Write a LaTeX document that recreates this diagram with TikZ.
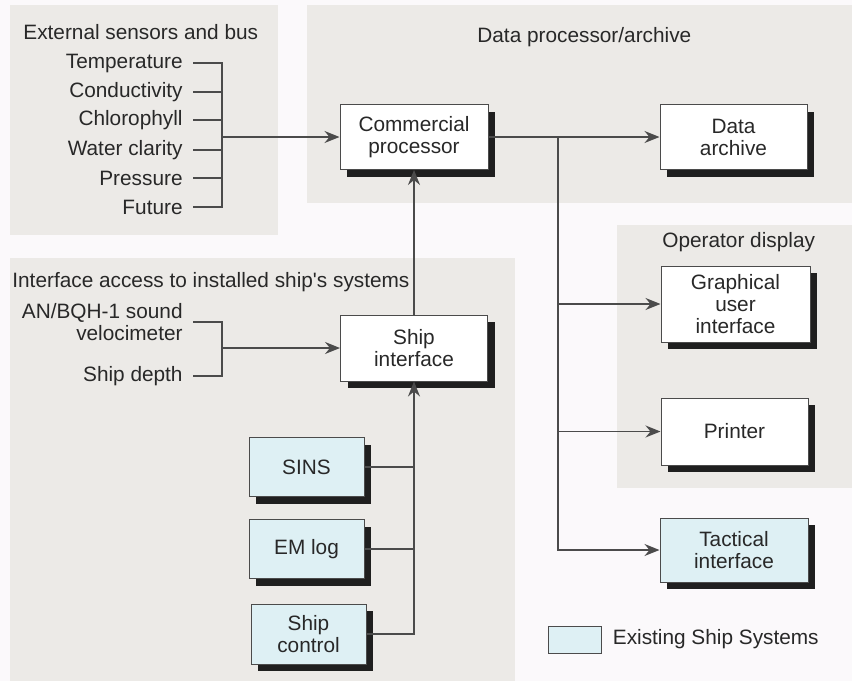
\documentclass[tikz,border=0pt]{standalone}
\usepackage{fontspec}
\setmainfont{Liberation Sans}
\usetikzlibrary{arrows.meta,positioning,shadows}
\definecolor{pagebg}{RGB}{251,249,251}
\definecolor{panelgray}{RGB}{236,234,231}
\definecolor{shipblue}{RGB}{222,240,244}
\definecolor{edgegray}{RGB}{75,75,75}
\definecolor{inkgray}{RGB}{40,40,40}

\tikzset{
  panel/.style={fill=panelgray, draw=none},
  paneltitle/.style={inner sep=0pt, text=inkgray},
  sensor/.style={anchor=east, inner xsep=5pt, inner ysep=1pt, align=right, text=inkgray},
  procbox/.style={draw=edgegray, line width=0.5pt, fill=white, align=center, inner sep=0pt, text=inkgray,
    drop shadow={shadow xshift=3.5pt, shadow yshift=-3.5pt, fill=black!88, opacity=1}},
  shipbox/.style={procbox, fill=shipblue},
  conn/.style={draw=edgegray, line width=0.7pt, -{Stealth[length=7.5pt, width=6pt, inset=2.5pt]}},
  wire/.style={draw=edgegray, line width=0.7pt}
}

\begin{document}
\begin{tikzpicture}[x=0.5pt, y=-0.5pt, font=\fontsize{10.4}{11}\selectfont]
% Background and panels
\useasboundingbox (0,0) rectangle (852,681);
\fill[pagebg] (0,0) rectangle (852,681);
\fill[panel] (10,5) rectangle (278,235);
\fill[panel] (307,5) rectangle (852,203);
\fill[panel] (10,258) rectangle (515,681);
\fill[panel] (617,225) rectangle (852,488);

% Panel titles
\node[paneltitle, anchor=west] (senstitle) at (23,32) {External sensors and bus};
\node[paneltitle, anchor=west] (proctitle) at (477,37) {Data processor/archive};
\node[paneltitle, anchor=west] (iftitle) at (12,282) {Interface access to installed ship\textquotesingle s systems};
\node[paneltitle, anchor=west] (optitle) at (662,242) {Operator display};

% External sensors
\node[sensor] (temp) at (193,63) {Temperature};
\node[sensor] (cond) at (193,92) {Conductivity};
\node[sensor] (chl) at (193,120) {Chlorophyll};
\node[sensor] (clar) at (193,150) {Water clarity};
\node[sensor] (pres) at (193,178) {Pressure};
\node[sensor] (fut) at (193,207) {Future};
\coordinate (sensbus) at (222,137);
\foreach \s in {temp,cond,chl,clar,pres,fut}
  \draw[wire] (\s.east) -| (sensbus);

% Data processor/archive
\node[procbox, minimum width=74pt, minimum height=32.5pt] (cproc) at (414,137) {Commercial\\processor};
\node[procbox, minimum width=73.5pt, minimum height=32.5pt] (archive) at (733.5,137) {Data\\archive};
\draw[conn] (sensbus) -- (cproc.west);
\draw[conn] (cproc.east) -- (archive.west);
\coordinate (split) at (558,137);

% Operator display
\node[procbox, minimum width=74.5pt, minimum height=38pt] (gui) at (735.5,304) {Graphical\\user\\interface};
\node[procbox, minimum width=73.5pt, minimum height=33.5pt] (printer) at (734.5,431.5) {Printer};
\node[shipbox, minimum width=74pt, minimum height=32pt] (tactical) at (734,550) {Tactical\\interface};
\draw[conn] (split) |- (gui.west);
\draw[conn] (split) |- (printer.west);
\draw[conn] (split) |- (tactical.west);

% Ship's systems
\node[sensor] (velo) at (193,322) {AN/BQH-1 sound\\velocimeter};
\node[sensor] (depth) at (193,376) {Ship depth};
\coordinate (shipbus) at (222,348);
\draw[wire] (velo.east) -| (shipbus);
\draw[wire] (depth.east) -| (shipbus);
\node[procbox, minimum width=73.5pt, minimum height=33pt] (shipif) at (414,348) {Ship\\interface};
\draw[conn] (shipbus) -- (shipif.west);
\draw[conn] (shipif.north) -- (cproc.south);

\node[shipbox, minimum width=57.5pt, minimum height=29.5pt] (sins) at (306.5,467) {SINS};
\node[shipbox, minimum width=57.5pt, minimum height=29.5pt] (emlog) at (306.5,549) {EM log};
\node[shipbox, minimum width=57.5pt, minimum height=30pt] (shipctl) at (308.5,634) {Ship\\control};
\draw[conn] (shipctl.east) -| (shipif.south);
\draw[wire] (sins.east) -- (sins.east -| shipif.south);
\draw[wire] (emlog.east) -- (emlog.east -| shipif.south);

% Legend
\node[draw=edgegray, line width=0.5pt, fill=shipblue, minimum width=26.5pt, minimum height=13.5pt, inner sep=0pt] (legbox) at (574.5,639.5) {};
\node[right=5.5pt of legbox, inner sep=0pt, text=inkgray] (legtext) {Existing Ship Systems};
\end{tikzpicture}
\end{document}
